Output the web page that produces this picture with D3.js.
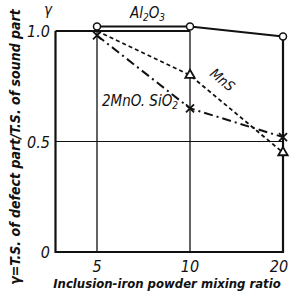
<!DOCTYPE html>
<html>
<head>
<meta charset="utf-8">
<script src="https://cdn.jsdelivr.net/npm/d3@7"></script>
<style>
  body { margin: 0; background: #fff; }
  text { font-family: "Liberation Sans Narrow", "DejaVu Sans Condensed", sans-serif; font-style: italic; fill: #111; }
</style>
</head>
<body>
<div id="chart"></div>
<script>
// mixing ratios (x) and strength ratio gamma (y)
var ratios = [5, 10, 20];
var al2o3 = [1.02, 1.02, 0.975];
var mns = [1.0, 0.80, 0.45];
var mno = [0.98, 0.65, 0.52];
var yTicks = [0, 0.5, 1.0];
var yTickLabels = ['0', '0.5', '1.0'];

var svgWidth = 290;
var svgHeight = 291;

var svg = d3.select("#chart")
  .append("svg")
  .attr("width", svgWidth)
  .attr("height", svgHeight);

// log scale, ratios double each step
var x = d3.scaleLog()
  .domain([3.67, 20])
  .range([55.5, 283]);

var y = d3.scaleLinear()
  .domain([0, 1])
  .range([252, 31]);

// grid lines
svg.selectAll('.vgrid')
  .data(ratios.slice(0, 2))
  .enter()
  .append('line')
  .attr('x1', d => x(d))
  .attr('x2', d => x(d))
  .attr('y1', y(0))
  .attr('y2', y(1))
  .attr('stroke', '#111')
  .attr('stroke-width', 1.3);

svg.append('line')
  .attr('x1', x(3.67)).attr('x2', x(20))
  .attr('y1', y(0.5)).attr('y2', y(0.5))
  .attr('stroke', '#111').attr('stroke-width', 1.2);

// frame: left, bottom, top (1.0) and right at 20
svg.append('path')
  .attr('d', `M${x(3.67)},${y(1)} L${x(3.67)},${y(0)} L${x(20)},${y(0)} L${x(20)},${y(al2o3[2])}`)
  .attr('fill', 'none')
  .attr('stroke', '#111')
  .attr('stroke-width', 2.2);

svg.append('line')
  .attr('x1', x(3.67)).attr('x2', x(10))
  .attr('y1', y(1)).attr('y2', y(1))
  .attr('stroke', '#111').attr('stroke-width', 2);

var line = d3.line()
  .x((d, i) => x(ratios[i]))
  .y(d => y(d));

// Al2O3 solid
svg.append('path')
  .attr('d', line(al2o3))
  .attr('fill', 'none')
  .attr('stroke', '#111')
  .attr('stroke-width', 2);

// MnS dashed
svg.append('path')
  .attr('d', line(mns))
  .attr('fill', 'none')
  .attr('stroke', '#111')
  .attr('stroke-width', 1.8)
  .attr('stroke-dasharray', '4,3');

// 2MnO.SiO2 dash-dot
svg.append('path')
  .attr('d', line(mno))
  .attr('fill', 'none')
  .attr('stroke', '#111')
  .attr('stroke-width', 2)
  .attr('stroke-dasharray', '9,4,2,4');

// markers
svg.selectAll('.circ')
  .data(al2o3)
  .enter()
  .append('circle')
  .attr('cx', (d, i) => x(ratios[i]))
  .attr('cy', d => y(d))
  .attr('r', 3.5)
  .attr('fill', '#fff')
  .attr('stroke', '#111')
  .attr('stroke-width', 1.5);

svg.selectAll('.tri')
  .data(mns.slice(1))
  .enter()
  .append('path')
  .attr('d', d3.symbol().type(d3.symbolTriangle).size(38))
  .attr('transform', (d, i) => `translate(${x(ratios[i + 1])},${y(d)})`)
  .attr('fill', '#fff')
  .attr('stroke', '#111')
  .attr('stroke-width', 1.8);

svg.selectAll('.cross')
  .data(mno)
  .enter()
  .append('path')
  .attr('d', 'M-4,-4L4,4M-4,4L4,-4')
  .attr('transform', (d, i) => `translate(${x(ratios[i])},${y(d)})`)
  .attr('stroke', '#111')
  .attr('stroke-width', 1.8);

// y tick labels
svg.selectAll('.ytick')
  .data(yTicks)
  .enter()
  .append('text')
  .attr('x', 50)
  .attr('y', d => y(d) + 6)
  .attr('text-anchor', 'end')
  .attr('font-size', 16)
  .text((d, i) => yTickLabels[i]);

svg.append('text')
  .attr('x', 44).attr('y', 15)
  .attr('font-size', 15)
  .text('γ');

// x tick labels
svg.selectAll('.xtick')
  .data(ratios)
  .enter()
  .append('text')
  .attr('x', (d, i) => x(d) - (i === 2 ? 4 : 0))
  .attr('y', 272)
  .attr('text-anchor', 'middle')
  .attr('font-size', 16)
  .text(d => d);

// axis titles
svg.append('text')
  .attr('x', 167).attr('y', 288)
  .attr('text-anchor', 'middle')
  .attr('font-size', 13)
  .attr('font-weight', 'bold')
  .text('Inclusion-iron powder mixing ratio');

svg.append('text')
  .attr('transform', 'translate(20,147) rotate(-90)')
  .attr('text-anchor', 'middle')
  .attr('font-size', 14)
  .attr('font-weight', 'bold')
  .text('γ=T.S. of defect part/T.S. of sound part');

// series labels
var alLabel = svg.append('text')
  .attr('x', 130).attr('y', 18)
  .attr('font-size', 15);
alLabel.append('tspan').text('Al');
alLabel.append('tspan').attr('font-size', 10).attr('dy', 3).text('2');
alLabel.append('tspan').attr('font-size', 15).attr('dy', -3).text('O');
alLabel.append('tspan').attr('font-size', 10).attr('dy', 3).text('3');

svg.append('text')
  .attr('transform', 'translate(209,75) rotate(40)')
  .attr('font-size', 14)
  .text('MnS');

var mnoLabel = svg.append('text')
  .attr('x', 102).attr('y', 106)
  .attr('font-size', 15);
mnoLabel.append('tspan').text('2MnO. SiO');
mnoLabel.append('tspan').attr('font-size', 10).attr('dy', 3).text('2');
</script>
</body>
</html>
